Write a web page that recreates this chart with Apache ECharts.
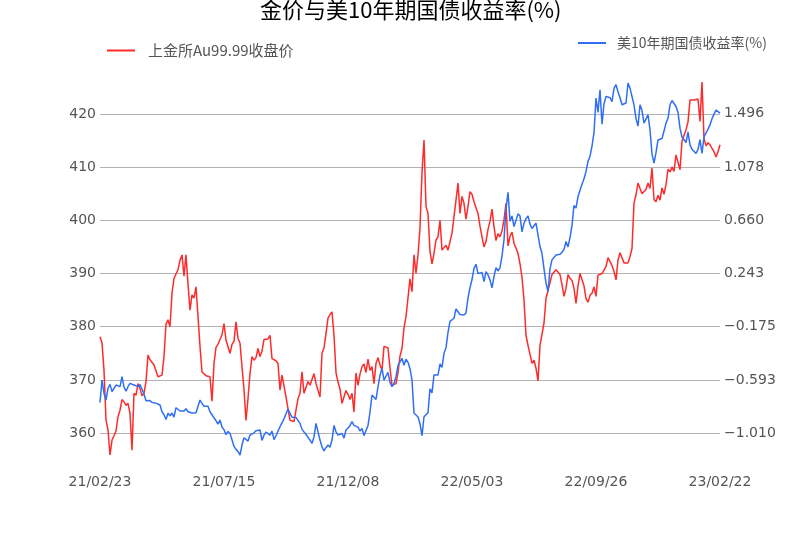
<!DOCTYPE html>
<html>
<head>
<meta charset="utf-8">
<script src="https://cdn.jsdelivr.net/npm/echarts@6/dist/echarts.min.js"></script>
<style>
html,body{margin:0;padding:0;background:#fff;}
#chart{width:800px;height:533px;}
</style>
</head>
<body>
<div id="chart"></div>
<script>
const titleText = '金价与美10年期国债收益率(%)';
const goldName = '上金所Au99.99收盘价';
const yieldName = '美10年期国债收益率(%)';
const dateLabels = ['21/02/23','21/07/15','21/12/08','22/05/03','22/09/26','23/02/22'];
const leftTicks = [360,370,380,390,400,410,420];
const rightTicks = [-1.010,-0.593,-0.175,0.243,0.660,1.078,1.496];

const gold = [
378.1,377,371.8,362.5,360.6,355.9,358.7,359.5,360.4,363.1,
364.3,366.3,365.9,365.2,365.6,363.7,356.8,367.5,367.1,369.3,
368.4,367,367.5,369.7,374.7,373.8,374.1,372.8,372.5,370.6,
370.9,370.9,374.4,380.5,381.3,380,386.3,389.1,389.9,390.7,
392.5,393.5,389.5,393.5,388,383.1,386,385.4,387.5,381.9,
376.3,371.5,371.2,370.8,371,370.6,366,373.1,376.1,376.7,
376.6,378.5,380.6,377.5,377.3,375.0,376.7,377.3,380.9,377.8,
376.9,372.5,368.2,362.4,366.5,371.2,374.4,373.7,374.2,375.9,
374.4,375.4,377.6,377.6,377.7,378.4,374,373.8,373.6,373.1,
368.1,370.9,370.6,366.8,364.6,362.4,362.4,362.2,362.5,366.5,
367.5,371.5,367.5,367.5,369.7,369,369,371.2,369.3,369.0,
366.8,375.0,376,378.7,381.6,382.3,382.8,378.4,371.4,369.6,
368.3,365.6,365.8,368,367.3,366.3,367.5,364.0,371.3,369,
371.1,372.5,373,371.4,373.9,371.8,372.5,369.3,373.1,374.2,
372.8,371.8,376.3,376.1,376,372.2,369.0,368.8,369.3,371.4,
374.5,375.9,379.8,381.9,382.1,389,386.6,393.5,390,393.5,
398.6,409,415.1,402.6,401.3,394.1,391.8,393.8,396.3,396.9,
400,394.4,394.4,395.3,394.4,394.2,397.6,400.7,403.8,407,
401.3,404.5,403.2,400.2,402.6,405.4,404.9,403.5,403.5,401.3,
398.9,396.9,395.0,396,398.3,399.8,402.1,398.8,396.2,397.5,
396.9,398,400.1,403.2,395.2,397,397.8,395.7,395.7,393.8,
391.8,389.3,385,378.4,376.5,376.5,373.1,373.7,372.2,369.8,
376.5,376.8,380.7,385.3,386.8,388.3,389.8,389.8,390.7,390.3,
389.8,387.9,385.7,387.2,389.8,389.1,388.7,387.2,384.4,387.7,
390,390,387.7,385.3,384.6,385.9,386.3,387.5,385.7,389.7,
390,390,390,391.3,393,392.9,391.5,390.4,388.8,392.5,
393.9,393.6,392,392.2,392,393.2,394.7,403.2,404.8,407,
407,405,404.7,405.8,407,406,409.8,403.9,403.5,404.7,
403.8,406.1,404.9,406.7,409.6,409.1,410,409.2,412.3,412,
409.5,414.9,414.7,417,418.5,422.6,422.6,422.6,422.6,422.8,
418.6,426.0,415.4,414,414.6,414.2,413.5,412.9,411.9,412.9,
414.2
];

const yieldVals = [
-0.77,-0.594,-0.698,-0.751,-0.659,-0.628,-0.685,-0.698,-0.633,-0.646,
-0.646,-0.567,-0.65,-0.682,-0.646,-0.62,-0.62,-0.633,-0.623,-0.646,
-0.63,-0.64,-0.703,-0.756,-0.751,-0.754,-0.77,-0.77,-0.775,-0.764,
-0.79,-0.843,-0.866,-0.903,-0.855,-0.874,-0.853,-0.885,-0.811,-0.803,
-0.837,-0.827,-0.837,-0.819,-0.843,-0.837,-0.853,-0.861,-0.85,-0.843,
-0.751,-0.762,-0.8,-0.806,-0.80,-0.843,-0.832,-0.89,-0.913,-0.94,
-0.908,-0.963,-0.983,-1.023,-0.997,-1.013,-1.062,-1.115,-1.138,-1.154,
-1.183,-1.104,-1.047,-1.047,-1.073,-1.026,-1.034,-1.008,-0.992,-0.997,
-0.986,-1.068,-1.026,-1.003,-0.997,-1.026,-0.995,-1.062,-1.031,-0.995,
-0.96,-0.95,-0.898,-0.858,-0.822,-0.855,-0.885,-0.895,-0.887,-0.892,
-0.934,-0.981,-0.981,-1.021,-1.036,-1.065,-1.09,-1.04,-0.934,-0.926,
-1.065,-1.117,-1.15,-1.125,-1.104,-1.122,-1.065,-0.95,-1.0,-1.026,
-1.02,-1.013,-1.05,-0.986,-0.97,-0.95,-0.921,-0.95,-0.955,-0.963,
-0.994,-0.973,-1.03,-1.036,-0.95,-0.845,-0.712,-0.715,-0.746,-0.646,
-0.557,-0.502,-0.594,-0.604,-0.533,-0.612,-0.646,-0.620,-0.568,-0.481,
-0.466,-0.423,-0.478,-0.431,-0.455,-0.505,-0.594,-0.853,-0.868,-0.884,
-0.937,-1.03,-0.882,-0.882,-0.85,-0.663,-0.695,-0.554,-0.544,-0.554,
-0.468,-0.494,-0.384,-0.34,-0.22,-0.133,-0.122,-0.109,-0.036,-0.026,
-0.08,-0.075,-0.083,-0.067,0.05,0.131,0.195,0.283,0.315,0.241,
0.233,0.25,0.179,0.257,0.231,0.192,0.129,0.218,0.288,0.262,
0.286,0.38,0.506,0.752,0.88,0.653,0.694,0.61,0.605,0.71,
0.694,0.569,0.637,0.673,0.694,0.63,0.595,0.617,0.637,0.64,
0.454,0.399,0.278,0.166,0.10,0.278,0.349,0.344,0.388,0.383,
0.393,0.409,0.43,0.493,0.451,0.524,0.619,0.776,0.755,0.844,
0.896,0.943,0.985,1.043,1.121,1.163,1.242,1.347,1.619,1.506,
1.684,1.414,1.572,1.632,1.622,1.622,1.59,1.695,1.724,1.669,
1.622,1.566,1.566,1.58,1.737,1.697,1.70,1.566,1.457,1.399,
1.566,1.522,1.422,1.414,1.488,1.37,1.181,1.108,1.19,1.29,
1.278,1.302,1.36,1.422,1.46,1.566,1.60,1.585,1.553,1.506,
1.383,1.313,1.302,1.27,1.354,1.252,1.218,1.223,1.184,1.216,
1.292,1.184,1.315,1.33,1.375,1.409,1.456,1.493,1.524,1.519,
1.501
];

const categories = gold.map((_, i) => String(i));
const labelStep = (gold.length - 1) / (dateLabels.length - 1);

const labelFont = {fontFamily: 'DejaVu Sans', fontSize: 14, color: '#555555'};

const chart = echarts.init(document.getElementById('chart'), null, {renderer: 'canvas'});
chart.setOption({
  animation: false,
  backgroundColor: '#ffffff',
  title: {
    text: titleText,
    left: 255, top: -6,
    textStyle: {fontFamily: 'Noto Sans CJK SC', fontSize: 22, fontWeight: 'normal', color: '#000000'}
  },
  legend: [
    {
      data: [goldName], left: 102, top: 38,
      icon: 'rect', itemWidth: 28, itemHeight: 2,
      textStyle: {fontFamily: 'Noto Sans CJK SC', fontSize: 15, color: '#555555', padding: [0,0,0,8]}
    },
    {
      data: [yieldName], left: 573, top: 31,
      icon: 'rect', itemWidth: 28, itemHeight: 2,
      textStyle: {fontFamily: 'Noto Sans CJK SC', fontSize: 14, color: '#555555', padding: [0,0,0,6]}
    }
  ],
  grid: {left: 100, right: 80, top: 82, bottom: 77, containLabel: false},
  xAxis: {
    type: 'category', data: categories, boundaryGap: false,
    axisLine: {show: false}, axisTick: {show: false},
    splitLine: {show: false},
    axisLabel: Object.assign({
      interval: labelStep - 1, margin: 19,
      formatter: (v, idx) => dateLabels[Math.round(idx / labelStep)]
    }, labelFont)
  },
  yAxis: [
    {
      type: 'value', position: 'left', min: 355.7, max: 426.0,
      axisLine: {show: false},
      axisTick: {show: false, customValues: leftTicks},
      splitLine: {show: true, lineStyle: {color: '#b3b3b3', width: 1}},
      axisLabel: Object.assign({customValues: leftTicks, margin: 4}, labelFont)
    },
    {
      type: 'value', position: 'right', min: -1.19, max: 1.745,
      axisLine: {show: false},
      axisTick: {show: false, customValues: rightTicks},
      splitLine: {show: false},
      axisLabel: Object.assign({
        customValues: rightTicks, margin: 4,
        formatter: v => v.toFixed(3).replace('-', '\u2212')
      }, labelFont)
    }
  ],
  series: [
    {
      name: goldName, type: 'line', data: gold, yAxisIndex: 0,
      showSymbol: false, symbol: 'none',
      lineStyle: {color: '#ff2b2b', width: 1.5}, itemStyle: {color: '#ff2b2b'}
    },
    {
      name: yieldName, type: 'line', data: yieldVals, yAxisIndex: 1,
      showSymbol: false, symbol: 'none',
      lineStyle: {color: '#2f6ff5', width: 1.5}, itemStyle: {color: '#2f6ff5'}
    }
  ]
});
</script>
</body>
</html>
